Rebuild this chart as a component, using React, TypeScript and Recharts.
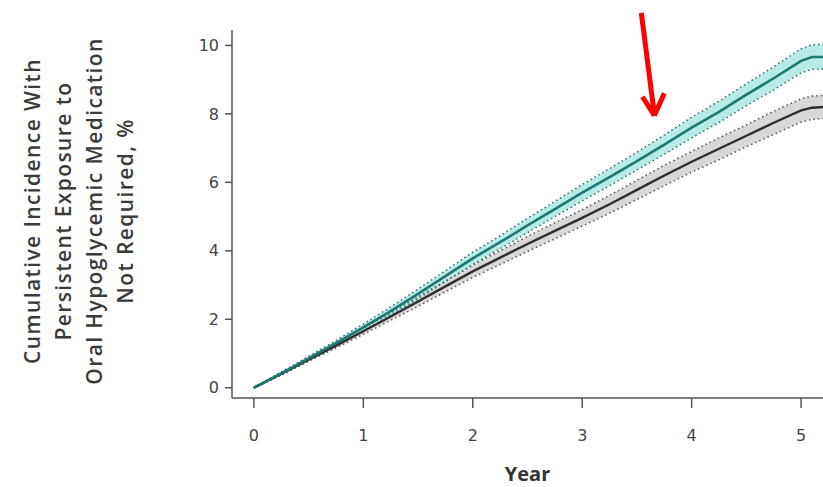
import React from "react";
import { ComposedChart, Area, Line, XAxis, YAxis, ReferenceLine } from "recharts";

const years = [0, 0.25, 0.5, 0.75, 1, 1.25, 1.5, 1.75, 2, 2.25, 2.5, 2.75, 3, 3.25, 3.5, 3.75, 4, 4.25, 4.5, 4.75, 5, 5.1, 5.2];
const tealMid = [0, 0.42, 0.86, 1.3, 1.76, 2.24, 2.74, 3.26, 3.78, 4.25, 4.74, 5.22, 5.7, 6.15, 6.62, 7.1, 7.6, 8.06, 8.56, 9.04, 9.55, 9.66, 9.66];
const tealLo = [0, 0.38, 0.8, 1.22, 1.66, 2.12, 2.6, 3.1, 3.6, 4.06, 4.53, 5.0, 5.46, 5.9, 6.36, 6.82, 7.3, 7.75, 8.24, 8.7, 9.2, 9.3, 9.31];
const tealHi = [0, 0.46, 0.92, 1.38, 1.86, 2.36, 2.88, 3.42, 3.96, 4.44, 4.95, 5.44, 5.94, 6.4, 6.88, 7.38, 7.9, 8.37, 8.88, 9.38, 9.9, 10.02, 10.03];
const grayMid = [0, 0.4, 0.82, 1.23, 1.65, 2.08, 2.52, 2.96, 3.4, 3.8, 4.2, 4.58, 4.96, 5.36, 5.78, 6.2, 6.6, 6.98, 7.36, 7.74, 8.1, 8.18, 8.2];
const grayLo = [0, 0.37, 0.77, 1.16, 1.56, 1.97, 2.38, 2.8, 3.22, 3.6, 3.98, 4.35, 4.72, 5.1, 5.5, 5.9, 6.3, 6.66, 7.04, 7.4, 7.76, 7.84, 7.86];
const grayHi = [0, 0.43, 0.87, 1.3, 1.74, 2.19, 2.66, 3.12, 3.58, 4.0, 4.42, 4.82, 5.2, 5.62, 6.06, 6.5, 6.9, 7.3, 7.68, 8.08, 8.44, 8.52, 8.54];

const xTicks = [0, 1, 2, 3, 4, 5];
const yTicks = [0, 2, 4, 6, 8, 10];
const yLabelLines = [
  "Cumulative Incidence With",
  "Persistent Exposure to",
  "Oral Hypoglycemic Medication",
  "Not Required, %",
];
// red annotation arrow (data coordinates: year, %)
const arrowShaft = [
  { x: 3.54, y: 10.95 },
  { x: 3.66, y: 7.95 },
];
const arrowLeft = [
  { x: 3.55, y: 8.5 },
  { x: 3.66, y: 7.95 },
];
const arrowRight = [
  { x: 3.75, y: 8.6 },
  { x: 3.66, y: 7.95 },
];

const data = years.map((yr, i) => ({
  year: yr,
  tealMid: tealMid[i],
  tealLo: tealLo[i],
  tealHi: tealHi[i],
  tealBand: [tealLo[i], tealHi[i]],
  grayMid: grayMid[i],
  grayLo: grayLo[i],
  grayHi: grayHi[i],
  grayBand: [grayLo[i], grayHi[i]],
}));

const YLabel = () => (
  <g>
    {yLabelLines.map((t, i) => (
      <text
        key={i}
        x={0}
        y={0}
        transform={`translate(${40 + i * 31},211) rotate(-90)`}
        textAnchor="middle"
        fontFamily="'Open Sans', sans-serif"
        fontSize={21}
        fontWeight={600}
        letterSpacing={1.4}
        fill="#3a3a3a"
      >
        {t}
      </text>
    ))}
  </g>
);

export default function App() {
  return (
    <div style={{ position: "absolute", left: 0, top: 0, background: "#fff" }}>
      <ComposedChart
        width={823}
        height={487}
        data={data}
        margin={{ top: 30, right: 0, bottom: 0, left: 0 }}
      >
        <XAxis
          dataKey="year"
          type="number"
          domain={[-0.2, 5.2]}
          ticks={xTicks}
          allowDataOverflow
          stroke="#555"
          strokeWidth={1.5}
          tickSize={10}
          tickMargin={22}
          height={89}
          tick={{ fill: "#444", fontSize: 16, fontFamily: "'DejaVu Sans', sans-serif" }}
          label={{
            value: "Year",
            position: "insideBottom",
            offset: 6,
            fill: "#333",
            fontSize: 20,
            fontWeight: 700,
            fontFamily: "'Open Sans', sans-serif",
          }}
        />
        <YAxis
          type="number"
          domain={[-0.3, 10.45]}
          ticks={yTicks}
          allowDataOverflow
          width={232}
          stroke="#555"
          strokeWidth={1.5}
          tickSize={7}
          tickMargin={6}
          tick={{ fill: "#444", fontSize: 16, fontFamily: "'DejaVu Sans', sans-serif" }}
          label={{ content: () => <YLabel /> }}
        />
        <Area
          dataKey="grayBand"
          stroke="none"
          fill="#c8c8c8"
          fillOpacity={0.7}
          isAnimationActive={false}
          type="linear"
        />
        <Area
          dataKey="tealBand"
          stroke="none"
          fill="#a6e6df"
          fillOpacity={0.8}
          isAnimationActive={false}
          type="linear"
        />
        <Line dataKey="grayLo" stroke="#555" strokeWidth={1.5} strokeDasharray="1.5 3" dot={false} isAnimationActive={false} type="linear" />
        <Line dataKey="grayHi" stroke="#555" strokeWidth={1.5} strokeDasharray="1.5 3" dot={false} isAnimationActive={false} type="linear" />
        <Line dataKey="tealLo" stroke="#2b6f69" strokeWidth={1.5} strokeDasharray="1.5 3" dot={false} isAnimationActive={false} type="linear" />
        <Line dataKey="tealHi" stroke="#2b6f69" strokeWidth={1.5} strokeDasharray="1.5 3" dot={false} isAnimationActive={false} type="linear" />
        <Line dataKey="grayMid" stroke="#2e2e2e" strokeWidth={2.4} dot={false} isAnimationActive={false} type="linear" />
        <Line dataKey="tealMid" stroke="#1d7770" strokeWidth={2.6} dot={false} isAnimationActive={false} type="linear" />
        <ReferenceLine segment={arrowShaft} stroke="#ff0000" strokeWidth={5} ifOverflow="visible" />
        <ReferenceLine segment={arrowLeft} stroke="#ff0000" strokeWidth={5} ifOverflow="visible" />
        <ReferenceLine segment={arrowRight} stroke="#ff0000" strokeWidth={5} ifOverflow="visible" />
      </ComposedChart>
    </div>
  );
}
